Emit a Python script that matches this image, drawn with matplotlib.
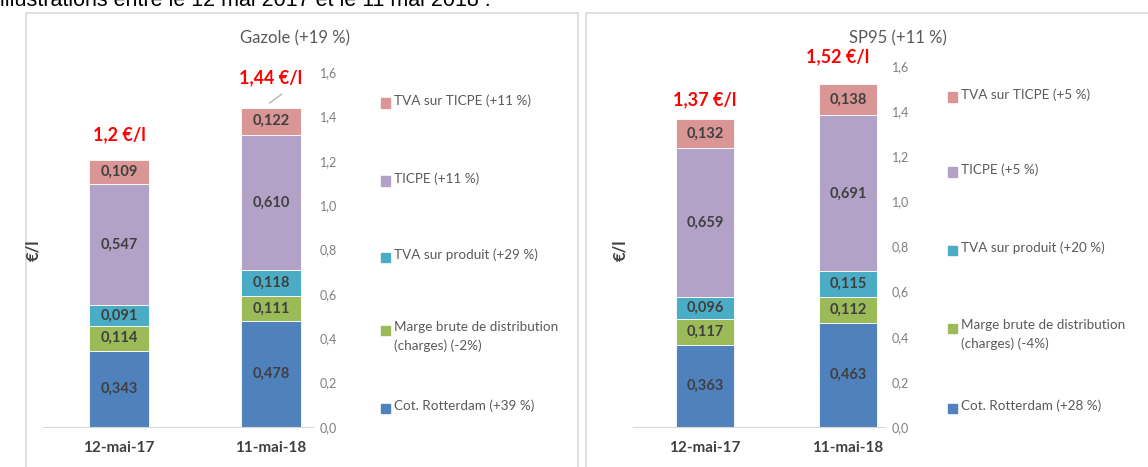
import numpy as np
import matplotlib.pyplot as plt
from matplotlib.patches import Rectangle

plt.rcParams['font.family'] = ['Lato', 'DejaVu Sans']

W, H = 1148, 467

dates = ['12-mai-17', '11-mai-18']
colors = ['#4f81bd', '#9bbb59', '#4bacc6', '#b3a2c7', '#d99694']

gazole = [[0.343, 0.478],   # Cot. Rotterdam
          [0.114, 0.111],   # Marge brute
          [0.091, 0.118],   # TVA sur produit
          [0.547, 0.610],   # TICPE
          [0.109, 0.122]]   # TVA sur TICPE
gazole_tot = ['1,2 €/l', '1,44 €/l']
gazole_leg = ['Cot. Rotterdam (+39 %)', 'Marge brute de distribution\n(charges) (-2%)',
              'TVA sur produit (+29 %)', 'TICPE (+11 %)', 'TVA sur TICPE (+11 %)']

sp95 = [[0.363, 0.463],
        [0.117, 0.112],
        [0.096, 0.115],
        [0.659, 0.691],
        [0.132, 0.138]]
sp95_tot = ['1,37 €/l', '1,52 €/l']
sp95_leg = ['Cot. Rotterdam (+28 %)', 'Marge brute de distribution\n(charges) (-4%)',
            'TVA sur produit (+20 %)', 'TICPE (+5 %)', 'TVA sur TICPE (+5 %)']

ticks = [0, 0.2, 0.4, 0.6, 0.8, 1.0, 1.2, 1.4, 1.6]

fig = plt.figure(figsize=(W / 100, H / 100), dpi=100)


def px(x, y):
    return x / W, 1 - y / H


# panel frames
for x0, x1 in [(26, 578), (586, 1152)]:
    fig.patches.append(Rectangle(px(x0, 480), (x1 - x0) / W, (480 - 13) / H,
                                 transform=fig.transFigure, fill=False,
                                 edgecolor='#d9d9d9', lw=1.2))

# cut-off sentence above the charts
fig.text(0, 1 - 6 / H, 'illustrations entre le 12 mai 2017 et le 11 mai 2018 :',
         family='Liberation Sans', fontsize=15.5, va='baseline', ha='left', color='black')


def chart(l, r, top, xl, data, tots, tot_pos, title, title_x, ylab_x, legs, leg_x, leg_y):
    ax = fig.add_axes([l / W, 1 - 427 / H, (r - l) / W, (427 - top) / H])
    x = np.arange(len(dates))
    bottom = np.zeros(len(dates))
    for vals, c in zip(data, colors):
        vals = np.array(vals)
        ax.bar(x, vals, 0.4, bottom=bottom, color=c, edgecolor='white', lw=0.6)
        for xi, b, v in zip(x, bottom, vals):
            ax.text(xi, b + v / 2, f'{v:.3f}'.replace('.', ','), ha='center', va='center',
                    fontsize=10.5, fontweight='bold', color='#404040')
        bottom += vals
    for (tx, ty), t in zip(tot_pos, tots):
        ax.text(tx, ty, t, ha='center', va='center', fontsize=13, fontweight='bold', color='red')
    ax.set_xlim(*xl)
    ax.set_ylim(0, 1.6)
    ax.set_yticks(ticks)
    ax.set_yticklabels([f'{t:.1f}'.replace('.', ',') for t in ticks])
    ax.yaxis.tick_right()
    ax.tick_params(axis='y', length=0, pad=5, labelsize=9, labelcolor='#7f7f7f')
    ax.set_xticks(x)
    ax.set_xticklabels(dates, fontsize=11, fontweight='bold', color='#404040')
    ax.tick_params(axis='x', length=0, pad=10)
    for s in ['top', 'left', 'right']:
        ax.spines[s].set_visible(False)
    ax.spines['bottom'].set_color('#d9d9d9')
    ax.set_facecolor('none')
    fig.text(title_x / W, 1 - 38 / H, title, ha='center', va='center', fontsize=12, color='#595959')
    fig.text(ylab_x / W, 1 - 250 / H, '€/l', rotation=90, ha='center', va='center',
             fontsize=12, fontweight='bold', color='#404040')
    for lab, c, ly in zip(legs, colors, leg_y):
        fig.patches.append(Rectangle(px(leg_x, ly + 4.5), 9 / W, 9 / H,
                                     transform=fig.transFigure, color=c))
        fig.text((leg_x + 13) / W, 1 - (ly - 9) / H, lab, ha='left', va='top',
                 fontsize=9.7, color='#595959', linespacing=1.6)
    return ax


ax1 = chart(43, 313, 72, (-0.5, 1.276), gazole, gazole_tot, [(0, 1.315), (1, 1.572)],
            'Gazole (+19 %)', 295, 33, gazole_leg, 381, [408, 330, 257, 181, 103])
ax1.plot([0.99, 1.07], [1.44 + 0.02, 1.50], color='#a6a6a6', lw=0.8)

ax2 = chart(633, 885, 66, (-0.503, 1.259), sp95, sp95_tot, [(0, 1.45), (0.93, 1.64)],
            'SP95 (+11 %)', 898, 620, sp95_leg, 948, [408, 328, 250, 172, 97])

fig.savefig('out.png', dpi=100)
